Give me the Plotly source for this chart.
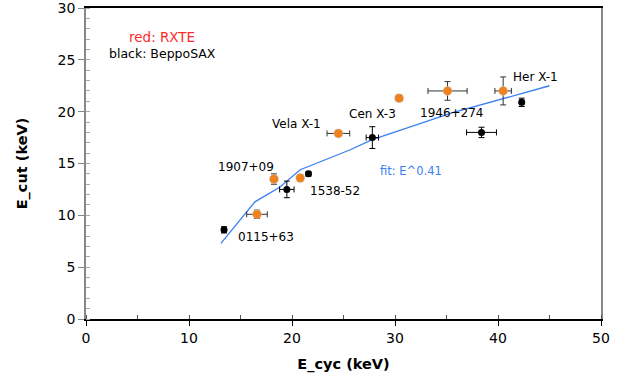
import plotly.graph_objects as go

# RXTE measurements (orange)
rxte_ecyc = [16.6, 18.25, 20.8, 24.5, 30.4, 35.1, 40.5]
rxte_ecut = [10.1, 13.5, 13.6, 17.9, 21.3, 22.0, 22.0]
rxte_ecyc_err = [1.0, 0.3, 0.0, 1.1, 0.3, 1.9, 0.8]
rxte_ecut_err = [0.4, 0.5, 0.3, 0.3, 0.3, 0.9, 1.35]

# BeppoSAX measurements (black)
sax_ecyc = [13.4, 19.5, 21.6, 27.8, 38.4, 42.3]
sax_ecut = [8.6, 12.5, 14.0, 17.5, 18.0, 20.9]
sax_ecyc_err = [0.2, 0.7, 0.2, 0.6, 1.45, 0.2]
sax_ecut_err = [0.3, 0.8, 0.2, 1.05, 0.5, 0.4]

# fitted relation curve
fit_x = [13.1, 16.4, 18.8, 20.8, 25.6, 27.8, 35.6, 40.2, 45.0]
fit_y = [7.3, 11.3, 12.7, 14.4, 16.3, 17.3, 19.9, 21.2, 22.5]

# source labels
src_names = ["1907+09", "1538-52", "0115+63", "Vela X-1", "Cen X-3", "1946+274", "Her X-1"]
src_x = [15.5, 24.2, 17.5, 20.4, 27.8, 35.5, 43.6]
src_y = [14.7, 12.3, 7.9, 18.8, 19.8, 19.9, 23.3]

FONT = "DejaVu Sans"

fig = go.Figure()

fig.add_trace(go.Scatter(
    x=fit_x, y=fit_y, mode="lines",
    line=dict(color="#3a7ff0", width=1.3),
    showlegend=False, hoverinfo="skip",
))

fig.add_trace(go.Scatter(
    x=sax_ecyc, y=sax_ecut, mode="markers",
    marker=dict(color="black", size=7, symbol="circle"),
    error_x=dict(type="data", array=sax_ecyc_err, color="black", thickness=1, width=3),
    error_y=dict(type="data", array=sax_ecut_err, color="black", thickness=1, width=3),
    showlegend=False,
))

fig.add_trace(go.Scatter(
    x=rxte_ecyc, y=rxte_ecut, mode="markers",
    marker=dict(color="#f0821e", size=9, symbol="circle",
                line=dict(color="#c8c8c8", width=0.5)),
    error_x=dict(type="data", array=rxte_ecyc_err, color="#333333", thickness=1, width=3),
    error_y=dict(type="data", array=rxte_ecut_err, color="#333333", thickness=1, width=3),
    showlegend=False,
))

annotations = [
    dict(x=x, y=y, text=t, showarrow=False, xref="x", yref="y",
         font=dict(family=FONT, size=12, color="black"))
    for t, x, y in zip(src_names, src_x, src_y)
]
annotations += [
    dict(x=7.4, y=27.2, text="red: RXTE", showarrow=False,
         font=dict(family=FONT, size=13.5, color="#ff2a2a")),
    dict(x=7.4, y=25.6, text="black: BeppoSAX", showarrow=False,
         font=dict(family=FONT, size=12.5, color="black")),
    dict(x=31.6, y=14.3, text="fit: E^0.41", showarrow=False,
         font=dict(family=FONT, size=11.5, color="#3a7ff0")),
]

fig.update_layout(
    width=630, height=379,
    margin=dict(l=86, r=29, t=8, b=60, autoexpand=False),
    paper_bgcolor="white", plot_bgcolor="white",
    font=dict(family=FONT, size=14, color="black"),
    annotations=annotations,
    xaxis=dict(
        range=[0, 50], dtick=10, showgrid=False, zeroline=False, automargin=False,
        showline=True, linecolor="black", linewidth=1.5, mirror=True,
        ticks="outside", ticklen=5, tickcolor="black",
        minor=dict(dtick=5, ticks="inside", ticklen=4, tickcolor="#555555"),
        title=dict(text="<b>E_cyc (keV)</b>", font=dict(family=FONT, size=14.5), standoff=14),
        tickfont=dict(family=FONT, size=14), ticklabeloverflow="allow",
    ),
    yaxis=dict(
        range=[0, 30], dtick=5, showgrid=False, zeroline=False, automargin=False,
        showline=True, linecolor="#888888", linewidth=1.5, mirror=True,
        ticks="outside", ticklen=6, tickcolor="#888888",
        minor=dict(dtick=1, ticks="inside", ticklen=4, tickcolor="#aaaaaa"),
        title=dict(text="<b>E_cut (keV)</b>", font=dict(family=FONT, size=14.5), standoff=27),
        tickfont=dict(family=FONT, size=14), ticklabeloverflow="allow",
    ),
)

fig.write_html("out.html")
